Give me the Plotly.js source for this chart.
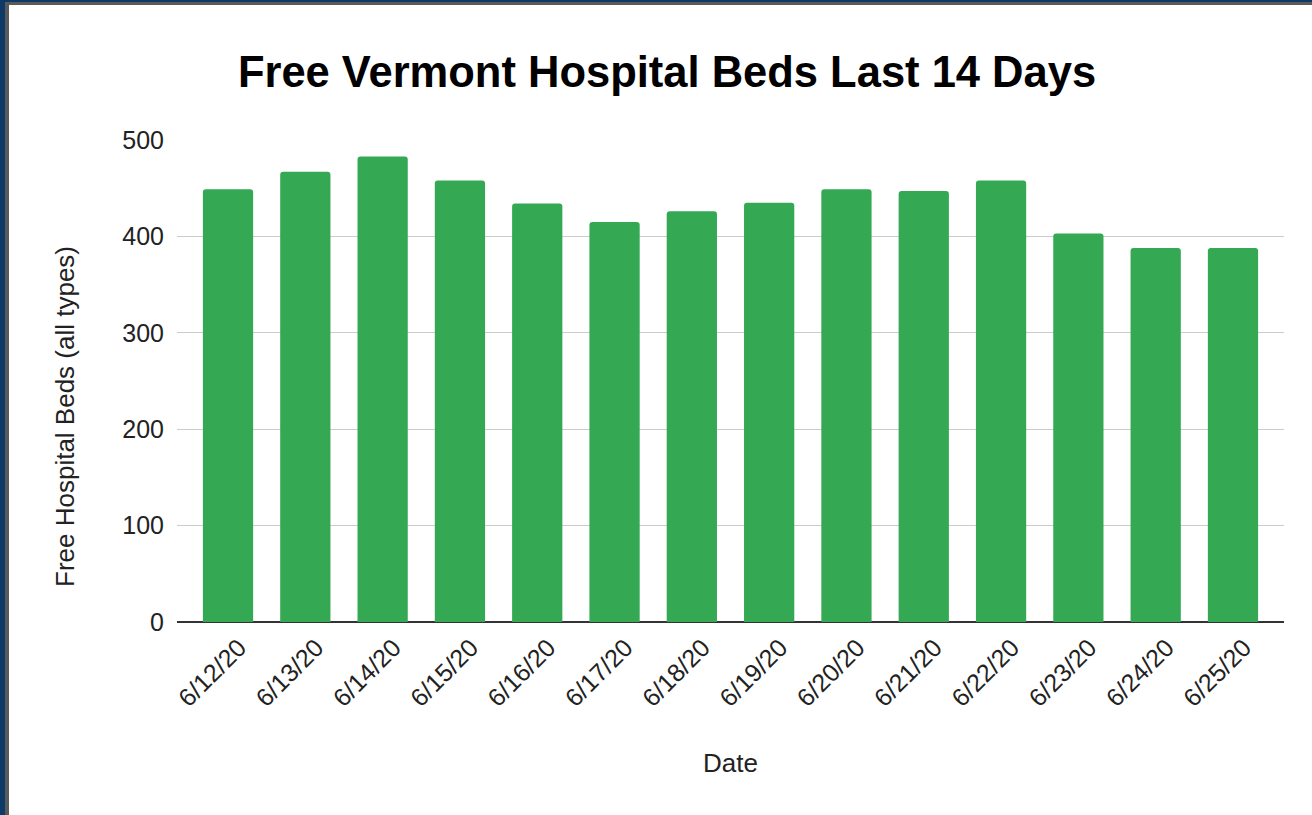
<!DOCTYPE html>
<html>
<head>
<meta charset="utf-8">
<script src="https://cdn.plot.ly/plotly-3.0.1.min.js"></script>
<style>
  html, body { margin: 0; padding: 0; background: #ffffff; overflow: hidden; }
  #chart { position: absolute; left: 0; top: 0; width: 1312px; height: 815px; }
  .edge { position: absolute; pointer-events: none; }
</style>
</head>
<body>
<div id="chart"></div>
<div class="edge" style="left:0;top:0;width:5px;height:815px;background:#0e3a68;"></div>
<div class="edge" style="left:0;top:0;width:1312px;height:2px;background:#0e3a68;"></div>
<div class="edge" style="left:5px;top:2px;width:4px;height:813px;background:#5a5a5a;"></div>
<div class="edge" style="left:5px;top:2px;width:1307px;height:3px;background:#5a5a5a;"></div>
<script>
const dates = ["6/12/20","6/13/20","6/14/20","6/15/20","6/16/20","6/17/20","6/18/20",
               "6/19/20","6/20/20","6/21/20","6/22/20","6/23/20","6/24/20","6/25/20"];
const freeBeds = [449, 467, 483, 458, 434, 415, 426, 435, 449, 447, 458, 403, 388, 388];
const yTicks = [0, 100, 200, 300, 400, 500];

const font = 'Liberation Sans, Arial, sans-serif';

const trace = {
  type: 'bar',
  x: dates,
  y: freeBeds,
  marker: { color: '#34a853', cornerradius: 3 },
  hoverinfo: 'x+y'
};

const layout = {
  width: 1312,
  height: 815,
  paper_bgcolor: '#ffffff',
  plot_bgcolor: '#ffffff',
  margin: { l: 177, r: 28, t: 140, b: 193 },
  bargap: 0.35,
  showlegend: false,
  title: {
    text: 'Free Vermont Hospital Beds Last 14 Days',
    font: { family: font, size: 43.5, color: '#000000', weight: 'bold' },
    x: 667 / 1312, xanchor: 'center',
    y: 1 - 72 / 815, yanchor: 'middle', yref: 'container'
  },
  xaxis: {
    type: 'category',
    range: [-0.66, 13.66],
    tickangle: -45,
    tickfont: { family: font, size: 25, color: '#222222' },
    ticklabelshift: 11,
    ticklabelstandoff: 5,
    showgrid: false,
    showline: false,
    ticks: '',
    title: { text: 'Date', font: { family: font, size: 26, color: '#222222' }, standoff: 42 }
  },
  yaxis: {
    range: [0, 500],
    tickvals: yTicks,
    ticktext: yTicks.map(String),
    tickfont: { family: font, size: 25, color: '#222222' },
    ticklabelstandoff: 12,
    showgrid: true,
    gridcolor: '#cccccc',
    gridwidth: 1.2,
    zeroline: true,
    zerolinecolor: '#333333',
    zerolinewidth: 1.6,
    showline: false,
    ticks: ''
  },
  annotations: [{
    text: 'Free Hospital Beds (all types)',
    textangle: -90,
    xref: 'paper', yref: 'paper',
    x: (65 - 177) / (1312 - 177 - 28),
    y: (622 - 417) / (622 - 140),
    xanchor: 'center', yanchor: 'middle',
    showarrow: false,
    font: { family: font, size: 26, color: '#222222' }
  }]
};

Plotly.newPlot('chart', [trace], layout, { displayModeBar: false, staticPlot: true });
</script>
</body>
</html>
